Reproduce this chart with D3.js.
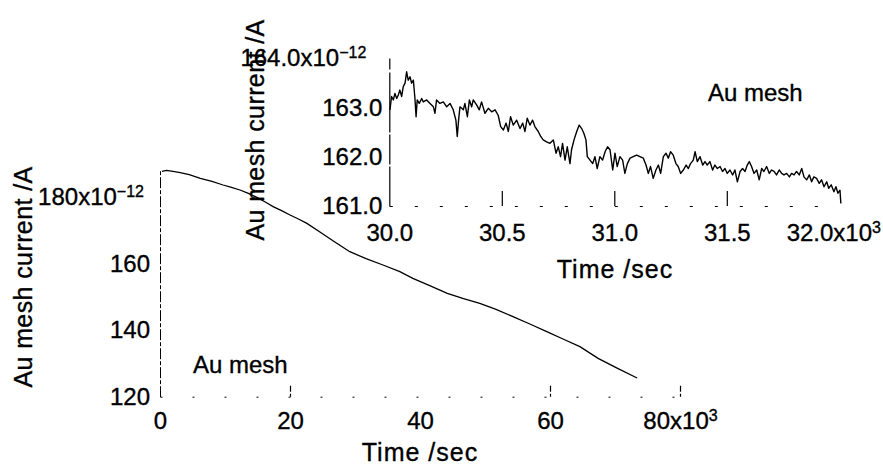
<!DOCTYPE html>
<html>
<head>
<meta charset="utf-8">
<script src="https://cdn.jsdelivr.net/npm/d3@7"></script>
<style>
  html, body { margin: 0; padding: 0; background: #fff; }
  svg { display: block; font-family: "Liberation Sans", Arial, sans-serif; }
  text { fill: #000; stroke: #000; stroke-width: 0.35px; }
</style>
</head>
<body>
<svg id="chart" width="883" height="469"></svg>
<script>
// Au mesh current over the whole run (time in 10^3 s, current in 10^-12 A)
const mainTime = [0.3, 1.0, 2.0, 3.1, 4.5, 6.2, 8.0, 9.7, 11.0, 12.3, 13.6, 14.9, 16.2, 17.4, 18.7,
  20.0, 21.3, 22.6, 24.6, 26.9, 29.2, 31.7, 34.3, 36.9, 38.9, 41.5, 44.2, 46.7, 49.2, 51.7,
  54.3, 56.9, 59.5, 62.0, 64.6, 67.4, 70.4, 73.4];
const mainCurrent = [187.6, 187.9, 187.6, 187.2, 186.6, 185.5, 184.6, 183.5, 182.8, 182.0, 181.0, 179.8, 178.4, 177.0, 175.8,
  174.5, 173.3, 172.0, 169.4, 166.4, 163.5, 161.4, 159.5, 157.5, 155.5, 153.3, 151.0, 149.4, 148.0, 146.2,
  144.0, 141.8, 139.5, 137.3, 135.0, 131.5, 128.5, 125.6];
const mainXTicks = [0, 20, 40, 60, 80];
const mainYTicks = [120, 140, 160, 180];

// Detail of the 30.0 - 32.0 x10^3 s window
const insetTime = [30.003, 30.010, 30.018, 30.025, 30.033, 30.040, 30.047, 30.055, 30.062, 30.070,
  30.077, 30.084, 30.092, 30.099, 30.107, 30.114, 30.119, 30.124, 30.133, 30.144,
  30.151, 30.166, 30.181, 30.196, 30.203, 30.210, 30.225, 30.240, 30.255, 30.270,
  30.284, 30.296, 30.302, 30.308, 30.314, 30.329, 30.336, 30.347, 30.356, 30.366,
  30.373, 30.388, 30.400, 30.410, 30.425, 30.440, 30.455, 30.470, 30.484, 30.495,
  30.507, 30.519, 30.529, 30.539, 30.551, 30.566, 30.581, 30.593, 30.603, 30.613,
  30.625, 30.637, 30.647, 30.662, 30.673, 30.684, 30.699, 30.714, 30.729, 30.741,
  30.751, 30.761, 30.770, 30.781, 30.791, 30.803, 30.810, 30.821, 30.833, 30.844,
  30.855, 30.865, 30.874, 30.880, 30.892, 30.904, 30.914, 30.924, 30.936, 30.948,
  30.959, 30.970, 30.981, 30.993, 31.003, 31.013, 31.025, 31.037, 31.047, 31.058,
  31.070, 31.084, 31.099, 31.114, 31.129, 31.141, 31.151, 31.161, 31.173, 31.185,
  31.196, 31.206, 31.218, 31.230, 31.240, 31.250, 31.262, 31.274, 31.284, 31.295,
  31.307, 31.319, 31.329, 31.339, 31.351, 31.359, 31.369, 31.381, 31.393, 31.403,
  31.413, 31.425, 31.437, 31.447, 31.458, 31.470, 31.481, 31.492, 31.502, 31.514,
  31.526, 31.536, 31.547, 31.559, 31.570, 31.581, 31.591, 31.600, 31.610, 31.621,
  31.633, 31.644, 31.655, 31.665, 31.677, 31.689, 31.699, 31.710, 31.721, 31.733,
  31.744, 31.754, 31.766, 31.778, 31.788, 31.799, 31.810, 31.822, 31.833, 31.843,
  31.855, 31.867, 31.877, 31.887, 31.899, 31.911, 31.921, 31.932, 31.944, 31.953,
  31.964, 31.976, 31.985, 31.994, 32.003, 32.007];
const insetCurrent = [162.95, 163.22, 163.15, 163.28, 163.18, 163.25, 163.35, 163.22, 163.42, 163.49,
  163.72, 163.55, 163.62, 163.49, 163.55, 163.18, 162.81, 163.15, 163.08, 163.18,
  163.11, 163.15, 163.08, 163.01, 162.88, 163.15, 163.08, 163.11, 163.01, 163.08,
  162.95, 162.74, 162.41, 162.74, 163.01, 162.95, 163.08, 162.81, 163.15, 163.01,
  163.15, 163.05, 162.95, 163.11, 162.88, 162.98, 162.91, 162.95, 162.84, 162.61,
  162.54, 162.68, 162.51, 162.81, 162.64, 162.74, 162.57, 162.68, 162.51, 162.78,
  162.64, 162.74, 162.61, 162.51, 162.41, 162.34, 162.30, 162.27, 162.34, 162.07,
  162.20, 162.00, 162.27, 161.93, 162.20, 161.86, 162.14, 162.34, 162.51, 162.64,
  162.57, 162.47, 162.34, 162.00, 161.93, 161.86, 162.00, 161.76, 162.00, 161.93,
  162.10, 162.20, 162.14, 161.73, 162.07, 161.80, 162.00, 161.93, 161.66, 161.86,
  161.97, 162.00, 162.03, 162.00, 161.97, 161.83, 161.66, 161.80, 161.56, 161.73,
  161.83, 161.66, 162.00, 162.07, 161.97, 162.10, 162.03, 161.86, 161.80, 161.66,
  161.73, 161.83, 161.76, 161.86, 161.93, 162.10, 161.90, 162.00, 161.83, 161.90,
  161.83, 161.90, 161.73, 161.83, 161.76, 161.80, 161.70, 161.76, 161.66, 161.73,
  161.63, 161.73, 161.49, 161.70, 161.76, 161.70, 161.83, 161.90, 161.80, 161.66,
  161.73, 161.53, 161.76, 161.70, 161.80, 161.66, 161.73, 161.70, 161.63, 161.73,
  161.66, 161.63, 161.66, 161.59, 161.66, 161.63, 161.70, 161.63, 161.76, 161.59,
  161.53, 161.63, 161.49, 161.59, 161.56, 161.46, 161.53, 161.39, 161.49, 161.36,
  161.43, 161.29, 161.39, 161.26, 161.32, 161.05];
const insetXTicks = [30.0, 30.5, 31.0, 31.5, 32.0];
const insetYTicks = [161, 162, 163, 164];

const svg = d3.select("#chart");
const tickFont = 24;
const titleFont = 25;

// superscript helper for the "x10^n" multiplier on the end tick label
function addExponent(textSel, exp) {
  textSel.append("tspan").text("x10");
  textSel.append("tspan").attr("dy", "-0.5em").attr("font-size", 16).text(exp);
}

// ---------- main plot ----------
const mx = d3.scaleLinear().domain([0, 80]).range([160, 680]);
const my = d3.scaleLinear().domain([120, 188]).range([396.7, 170]);

const mainXAxis = svg.append("g")
  .attr("transform", `translate(0,${my(120)})`)
  .call(d3.axisBottom(mx).tickValues(mainXTicks).tickSizeInner(-12).tickSizeOuter(0)
    .tickPadding(15).tickFormat(d3.format("d")));
mainXAxis.select(".domain").attr("stroke", "#000").attr("stroke-width", 1).attr("stroke-dasharray", "2,30");
mainXAxis.selectAll(".tick line").attr("stroke", "#000").attr("stroke-width", 1.2).attr("stroke-dasharray", "3,2,6,1");
mainXAxis.selectAll(".tick line").filter(d => d === 0 || d === 40).attr("stroke", "none");
mainXAxis.selectAll(".tick text").attr("font-size", tickFont);
mainXAxis.selectAll(".tick text").filter(d => d === 80).call(addExponent, "3");

const mainYAxis = svg.append("g")
  .attr("transform", `translate(${mx(0)},0)`)
  .call(d3.axisLeft(my).tickValues(mainYTicks).tickSizeInner(0).tickSizeOuter(0)
    .tickPadding(10).tickFormat(d3.format("d")));
mainYAxis.select(".domain").attr("stroke", "#000").attr("stroke-width", 1).attr("stroke-dasharray", "11,2,4,2");
mainYAxis.selectAll(".tick text").attr("font-size", tickFont);
mainYAxis.selectAll(".tick text").filter(d => d === 180).attr("dx", -6).call(addExponent, "\u221212");

const mainLine = d3.line().x((d, i) => mx(mainTime[i])).y(d => my(d));
svg.append("path")
  .datum(mainCurrent)
  .attr("fill", "none").attr("stroke", "#000").attr("stroke-width", 1.3)
  .attr("d", mainLine);

svg.append("text").attr("x", 193).attr("y", 373).attr("font-size", tickFont).text("Au mesh");
svg.append("text").attr("text-anchor", "middle").attr("x", 420).attr("y", 461)
  .attr("font-size", titleFont).attr("letter-spacing", 1).text("Time /sec");
svg.append("text").attr("text-anchor", "middle")
  .attr("transform", "translate(32,277) rotate(-90)")
  .attr("font-size", titleFont).attr("letter-spacing", 0.4).text("Au mesh current /A");

// ---------- inset plot ----------
const ix = d3.scaleLinear().domain([30.0, 32.0]).range([389.3, 839.3]);
const iy = d3.scaleLinear().domain([161, 164]).range([206, 58]);

const insetXAxis = svg.append("g")
  .attr("transform", `translate(0,${iy(161)})`)
  .call(d3.axisBottom(ix).tickValues(insetXTicks).tickSizeInner(-15).tickSizeOuter(0)
    .tickPadding(18).tickFormat(d3.format(".1f")));
insetXAxis.select(".domain").attr("stroke", "#000").attr("stroke-width", 1).attr("stroke-dasharray", "3,22");
insetXAxis.selectAll(".tick line").attr("stroke", "#000").attr("stroke-width", 1.2);
insetXAxis.selectAll(".tick line").filter(d => d === 30.0 || d === 32.0).attr("stroke", "none");
insetXAxis.selectAll(".tick text").attr("font-size", tickFont);
insetXAxis.selectAll(".tick text").filter(d => d === 32.0).attr("dx", -6).call(addExponent, "3");

const insetYAxis = svg.append("g")
  .attr("transform", `translate(${ix(30.0)},0)`)
  .call(d3.axisLeft(iy).tickValues(insetYTicks).tickSizeInner(0).tickSizeOuter(0)
    .tickPadding(7).tickFormat(d3.format(".1f")));
insetYAxis.select(".domain").attr("stroke", "#000").attr("stroke-width", 1.2).attr("stroke-dasharray", "40,2,30,2,60,3");
insetYAxis.selectAll(".tick text").attr("font-size", tickFont);
insetYAxis.selectAll(".tick text").filter(d => d === 164).attr("dx", -16).call(addExponent, "\u221212");

const insetLine = d3.line().x((d, i) => ix(insetTime[i])).y(d => iy(d));
svg.append("path")
  .datum(insetCurrent)
  .attr("fill", "none").attr("stroke", "#000").attr("stroke-width", 1.4)
  .attr("stroke-linejoin", "round")
  .attr("d", insetLine);

svg.append("text").attr("x", 708).attr("y", 101).attr("font-size", tickFont).text("Au mesh");
svg.append("text").attr("text-anchor", "middle").attr("x", 615).attr("y", 278)
  .attr("font-size", titleFont).attr("letter-spacing", 1).text("Time /sec");
svg.append("text").attr("text-anchor", "middle")
  .attr("transform", "translate(264,130) rotate(-90)")
  .attr("font-size", titleFont).attr("letter-spacing", 0.4).text("Au mesh current /A");
</script>
</body>
</html>
